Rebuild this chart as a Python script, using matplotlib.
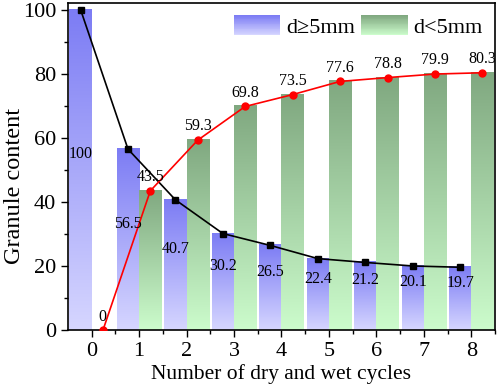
import numpy as np
import matplotlib
matplotlib.use("Agg")
import matplotlib.pyplot as plt
from matplotlib.colors import LinearSegmentedColormap, to_rgb
from matplotlib.patches import Rectangle, Patch
from matplotlib.legend_handler import HandlerBase
from matplotlib.ticker import MultipleLocator

cycles = [0, 1, 2, 3, 4, 5, 6, 7, 8]
coarse = [100, 56.5, 40.7, 30.2, 26.5, 22.4, 21.2, 20.1, 19.7]
fine = [0, 43.5, 59.3, 69.8, 73.5, 77.6, 78.8, 79.9, 80.3]
coarse_label = "d≥5mm"
fine_label = "d<5mm"

blue_top, blue_bot = "#7c7cf4", "#d6d6ff"
green_top, green_bot = "#80a880", "#ccfccc"

plt.rcParams["font.family"] = ["Liberation Serif", "DejaVu Serif"]
plt.rcParams["mathtext.fontset"] = "stix"

fig = plt.figure(figsize=(4.98, 3.90), dpi=100)
ax = fig.add_axes([0.1365, 0.1526, 0.994 - 0.1365, 0.992 - 0.1526])

x = np.array(cycles, dtype=float)
w = 0.47

def gradient_bars(bars, top, bot):
    cmap = LinearSegmentedColormap.from_list("g", [bot, top])
    grad = np.linspace(0, 1, 256).reshape(-1, 1)
    for b in bars:
        h = b.get_height()
        if h <= 0:
            continue
        x0 = b.get_x()
        ax.imshow(grad, cmap=cmap, origin="lower", aspect="auto",
                  extent=(x0, x0 + b.get_width(), 0, h), zorder=1,
                  interpolation="bilinear")

bars_c = ax.bar(x - w / 2, coarse, width=w, color="none", edgecolor="none")
bars_f = ax.bar(x + w / 2, fine, width=w, color="none", edgecolor="none")
gradient_bars(bars_c, blue_top, blue_bot)
gradient_bars(bars_f, green_top, green_bot)

ax.plot(x - w / 2, coarse, color="black", lw=1.2, marker="s", ms=5, zorder=4)
ax.plot(x + w / 2, fine, color="red", lw=1.2, marker="o", ms=5, zorder=4)

for xi, v in zip(x - w / 2, coarse):
    ax.annotate(f"{v:g}", (xi, v / 2), xytext=(0, 11.5), textcoords="offset points",
                ha="center", va="center", fontsize=11.5, zorder=5)
for xi, v in zip(x + w / 2, fine):
    ax.annotate(f"{v:g}", (xi, v), xytext=(0, 10), textcoords="offset points",
                ha="center", va="center", fontsize=11.5, zorder=5)

ax.set_xlim(-0.5, 8.48)
ax.set_ylim(0, 102)
ax.set_xticks(cycles)
ax.set_xticks(x + 0.5, minor=True)
ax.yaxis.set_major_locator(MultipleLocator(20))
ax.yaxis.set_minor_locator(MultipleLocator(10))
ax.tick_params(axis="both", which="major", direction="out", length=5, width=1,
               labelsize=16, top=False, right=False)
ax.tick_params(axis="both", which="minor", direction="out", length=3, width=1,
               top=False, right=False)
ax.set_xlabel("Number of dry and wet cycles", fontsize=15.5, labelpad=2)
ax.set_ylabel("Granule content", fontsize=17.5)
ax.yaxis.set_label_coords(-0.10, 0.443)
for s in ax.spines.values():
    s.set_linewidth(1.2)


class GradHandler(HandlerBase):
    def __init__(self, top, bot):
        super().__init__()
        self.top = np.array(to_rgb(top))
        self.bot = np.array(to_rgb(bot))

    def create_artists(self, legend, orig_handle, xdescent, ydescent, width,
                       height, fontsize, trans):
        n = 24
        arts = []
        for i in range(n):
            t = i / (n - 1)
            c = self.bot * (1 - t) + self.top * t
            r = Rectangle((-xdescent, -ydescent + height * i / n), width,
                          height / n + 0.3, facecolor=c, edgecolor="none",
                          transform=trans)
            arts.append(r)
        return arts


hc = Patch(label=coarse_label)
hf = Patch(label=fine_label)
ax.legend(handles=[hc, hf], loc="upper right", ncol=2, frameon=False,
          fontsize=16, handlelength=2.1, handleheight=1.0, handletextpad=0.25,
          columnspacing=0.3, borderaxespad=0.15,
          handler_map={hc: GradHandler(blue_top, blue_bot),
                       hf: GradHandler(green_top, green_bot)})

fig.savefig("out.png", dpi=100)
